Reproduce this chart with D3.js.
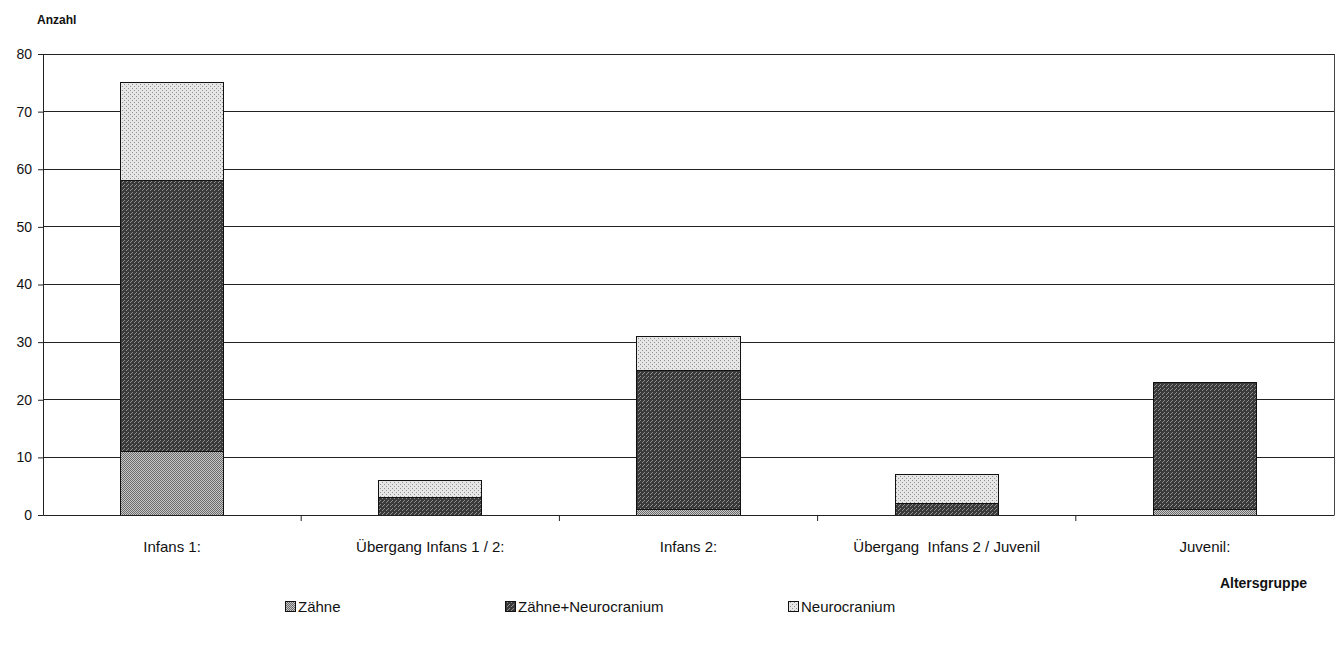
<!DOCTYPE html>
<html><head><meta charset="utf-8">
<script src="https://cdn.jsdelivr.net/npm/d3@7"></script>
<style>
body{margin:0;background:#fff;}
svg text{font-family:"Liberation Sans",Arial,sans-serif;fill:#111;white-space:pre;}
</style></head>
<body><svg id="c" width="1336" height="648"></svg>
<script>
const categories = ["Infans 1:", "Übergang Infans 1 / 2:", "Infans 2:", "Übergang  Infans 2 / Juvenil", "Juvenil:"];
const seriesNames = ["Zähne", "Zähne+Neurocranium", "Neurocranium"];
const zaehne = [11, 0, 1, 0, 1];
const zaehneNeuro = [47, 3, 24, 2, 22];
const neuro = [17, 3, 6, 5, 0];
const yTicks = [0, 10, 20, 30, 40, 50, 60, 70, 80];

const svg = d3.select("#c");
const defs = svg.append("defs");
function pat(id, bg, fg, dens) {
  const p = defs.append("pattern").attr("id", id).attr("width", 4).attr("height", 4).attr("patternUnits", "userSpaceOnUse");
  p.append("rect").attr("width", 4).attr("height", 4).attr("fill", bg);
  dens.forEach(([x, y]) => p.append("rect").attr("x", x).attr("y", y).attr("width", 1).attr("height", 1).attr("fill", fg));
}
pat("p0", "#c8c8c8", "#6a6a6a", [[0,0],[2,0],[1,1],[3,1],[0,2],[2,2],[1,3],[3,3]]);
pat("p1", "#3a3a3a", "#8e8e8e", [[0,0],[2,2],[3,1]]);
pat("p2", "#e6e6e6", "#909090", [[0,0],[2,2]]);
const fills = ["url(#p0)", "url(#p1)", "url(#p2)"];

const m = {l: 43, r: 1334, t: 54, b: 515};
const x = d3.scaleBand().domain(categories).range([m.l, m.r]).paddingInner(0).paddingOuter(0);
const y = d3.scaleLinear().domain([0, 80]).range([m.b, m.t]);

const rows = categories.map((c, i) => ({cat: c, "Zähne": zaehne[i], "Zähne+Neurocranium": zaehneNeuro[i], "Neurocranium": neuro[i]}));
const stack = d3.stack().keys(seriesNames)(rows);

// gridlines
svg.append("g").selectAll("line").data(yTicks.filter(d => d > 0)).join("line")
  .attr("x1", m.l).attr("x2", m.r).attr("y1", d => y(d)).attr("y2", d => y(d))
  .attr("stroke", "#222").attr("stroke-width", 1).attr("shape-rendering", "crispEdges");
// right border
svg.append("line").attr("x1", m.r).attr("x2", m.r).attr("y1", m.t).attr("y2", m.b)
  .attr("stroke", "#444").attr("shape-rendering", "crispEdges");

// bars
const bw = x.bandwidth() * 0.4;
stack.forEach((s, k) => {
  svg.append("g").selectAll("rect").data(s.filter(d => d[1] - d[0] > 0)).join("rect")
    .attr("x", d => x(d.data.cat) + (x.bandwidth() - bw) / 2)
    .attr("width", bw)
    .attr("y", d => y(d[1]))
    .attr("height", d => y(d[0]) - y(d[1]))
    .attr("fill", fills[k])
    .attr("stroke", "#111").attr("stroke-width", 1).attr("shape-rendering", "crispEdges");
});

// y axis
const ya = svg.append("g").attr("transform", `translate(${m.l},0)`)
  .call(d3.axisLeft(y).tickValues(yTicks).tickSize(5).tickPadding(6));
ya.select(".domain").attr("stroke", "#222");
ya.selectAll(".tick line").attr("stroke", "#222");
ya.selectAll("text").style("font-size", "14px").attr("fill", "#111");

// x axis
const xa = svg.append("g").attr("transform", `translate(0,${m.b})`)
  .call(d3.axisBottom(x).tickSize(0).tickPadding(26));
xa.select(".domain").attr("stroke", "#222");
xa.selectAll("text").style("font-size", "15px").attr("fill", "#111");
// category separator ticks
const seps = categories.slice(1).map(c => x(c));
xa.selectAll("line.sep").data(seps).join("line").attr("class", "sep")
  .attr("x1", d => d).attr("x2", d => d).attr("y1", 0).attr("y2", 6).attr("stroke", "#222");

// axis titles
svg.append("text").attr("x", 37).attr("y", 24).text("Anzahl").style("font-size", "12px").style("font-weight", "bold");
svg.append("text").attr("x", 1307).attr("y", 588).attr("text-anchor", "end").text("Altersgruppe").style("font-size", "14px").style("font-weight", "bold");

// legend
const lx = [285, 505, 788];
const lg = svg.append("g").selectAll("g").data(seriesNames).join("g")
  .attr("transform", (d, i) => `translate(${lx[i]},${612})`);
lg.append("rect").attr("x", 0).attr("y", -11).attr("width", 10).attr("height", 10)
  .attr("fill", (d, i) => fills[i]).attr("stroke", "#111").attr("shape-rendering", "crispEdges");
lg.append("text").attr("x", 13).attr("y", 0).text(d => d).style("font-size", "15px");
</script></body></html>
